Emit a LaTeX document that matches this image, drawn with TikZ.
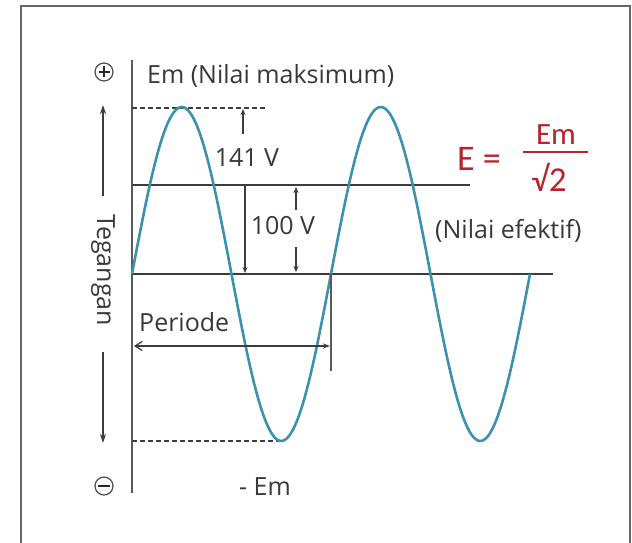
\documentclass[tikz,border=0pt]{standalone}
\usepackage{fontspec}
\setmainfont{Open Sans}
\newfontfamily\formfont{Carlito}
\usetikzlibrary{arrows.meta}
\definecolor{wave}{RGB}{60,145,175}
\definecolor{axisgray}{RGB}{90,90,90}
\definecolor{linegray}{RGB}{60,60,60}
\definecolor{formred}{RGB}{185,35,45}
\begin{document}
\begin{tikzpicture}[x=1pt,y=-1pt,
  txt/.style={inner sep=0pt,font=\fontsize{25}{28}\selectfont,text=black!78},
  ftxt/.style={inner sep=0pt,font=\formfont,text=formred},
  hline/.style={draw=linegray,line width=1.6pt},
  dashline/.style={draw=linegray,line width=1.4pt,dash pattern=on 5pt off 3pt},
  axisline/.style={draw=axisgray,line width=2pt},
  smallarr/.style={draw=linegray,line width=1.3pt,-{Stealth[length=6pt,width=5pt]}},
  sign/.style={circle,draw=black!70,line width=1.2pt,minimum size=18pt,inner sep=0pt}]
\useasboundingbox (0,0) rectangle (632,543);
% frame (open at bottom)
\draw[draw=black!60,line width=1.5pt] (21,560) -- (21,6) -- (630,6) -- (630,560);
% axis
\coordinate (axtop) at (132,60);
\coordinate (axbot) at (132,493);
\draw[axisline] (axtop) -- (axbot);
% signs
\node[sign] (plus) at (104,72) {};
\draw[draw=black!85,line width=1.6pt] ([xshift=-5.5pt]plus.center) -- ([xshift=5.5pt]plus.center);
\draw[draw=black!85,line width=1.6pt] ([yshift=-5.5pt]plus.center) -- ([yshift=5.5pt]plus.center);
\node[sign] (minus) at (104,486) {};
\draw[draw=black!85,line width=1.6pt] ([xshift=-6pt]minus.center) -- ([xshift=6pt]minus.center);
% lines
\coordinate (maxL) at (132,108); \coordinate (maxR) at (265,108);
\coordinate (rmsL) at (132,185); \coordinate (rmsR) at (470,185);
\coordinate (zeroL) at (132,274); \coordinate (zeroR) at (553,274);
\coordinate (minL) at (132,441); \coordinate (minR) at (283,441);
\draw[dashline] (maxL) -- (maxR);
\draw[dashline] (minL) -- (minR);
\draw[hline] (rmsL) -- (rmsR);
\draw[hline] (zeroL) -- (zeroR);
% sine wave
\draw[wave,line width=2.6pt,line join=round] plot[domain=0:398,samples=200,smooth] ({132+\x},{274-167*sin(1.809045*\x)});
% 141 V arrow
\coordinate (a141s) at (243,134); \coordinate (a141e) at (243,109);
\draw[smallarr] (a141s) -- (a141e);
\node[txt] (t141) at (247,158) {141 V};
% 100 V arrows
\coordinate (v100t) at (245,185); \coordinate (v100b) at (245,273);
\draw[smallarr] (v100t) -- (v100b);
\coordinate (u1s) at (296,210); \coordinate (u1e) at (296,187);
\draw[smallarr] (u1s) -- (u1e);
\coordinate (u2s) at (296,247); \coordinate (u2e) at (296,272);
\draw[smallarr] (u2s) -- (u2e);
\node[txt] (t100) at (283,226) {100 V};
% labels
\node[txt,anchor=west] (tmax) at (147,76) {Em (Nilai maksimum)};
\node[txt,anchor=west] (teff) at (435,231) {(Nilai efektif)};
\node[txt,anchor=west] (tper) at (139,322) {Periode};
\node[txt] (tmin) at (265,487) {- Em};
% periode arrow
\coordinate (pertickT) at (331,274); \coordinate (pertickB) at (331,371);
\draw[draw=axisgray,line width=1.6pt] (pertickT) -- (pertickB);
\coordinate (perL) at (134,346); \coordinate (perR) at (330,346);
\draw[draw=linegray,line width=1.3pt,{Straight Barb[length=7pt,width=9pt]}-{Stealth[length=7pt,width=5pt]}] (perL) -- (perR);
% Tegangan
\node[txt,rotate=-90] (teg) at (103,270) {Tegangan};
\coordinate (tu1) at (103,196); \coordinate (tu2) at (103,105);
\draw[draw=linegray,line width=1.6pt,-{Stealth[length=9pt,width=6pt]}] (tu1) -- (tu2);
\coordinate (td1) at (103,352); \coordinate (td2) at (103,443);
\draw[draw=linegray,line width=1.6pt,-{Stealth[length=9pt,width=6pt]}] (td1) -- (td2);
% formula
\node[ftxt,font=\formfont\fontsize{36}{40}\selectfont] (fE) at (479,159) {E =};
\node[ftxt,font=\formfont\fontsize{31}{34}\selectfont] (fnum) at (556,135) {Em};
\node[ftxt,font=\formfont\fontsize{35}{38}\selectfont] (fden) at (549,177) {√2};
\coordinate (barL) at (523,152); \coordinate (barR) at (588,152);
\draw[draw=formred,line width=1.8pt] (barL) -- (barR);
\end{tikzpicture}
\end{document}
